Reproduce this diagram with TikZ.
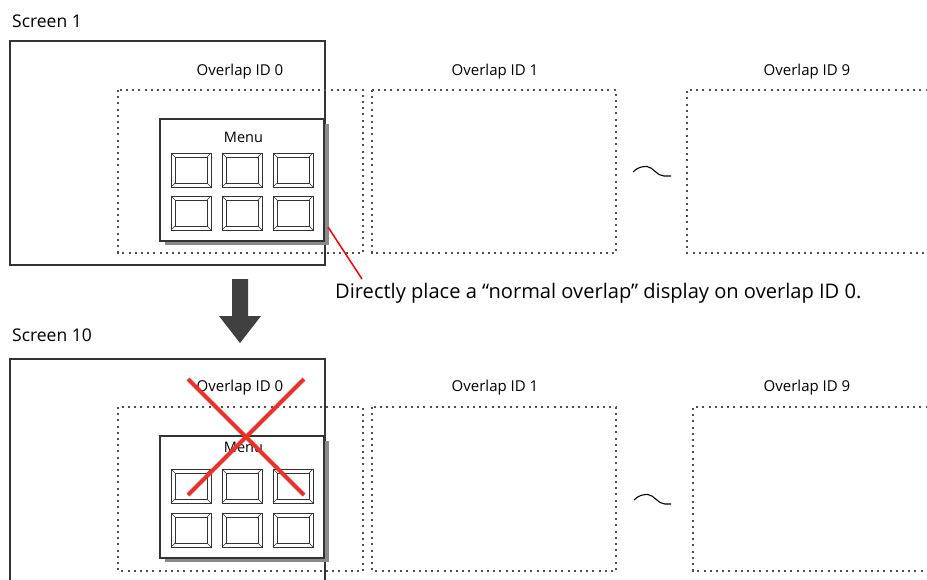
\documentclass[tikz,border=0pt]{standalone}
\usepackage{fontspec}
\setmainfont{Open Sans}
\definecolor{frame}{HTML}{333333}
\definecolor{dotc}{HTML}{505050}
\definecolor{shadowc}{HTML}{8A8A8A}
\definecolor{arrowc}{HTML}{404040}
\definecolor{xred}{HTML}{EC3228}
\tikzset{
  screenbox/.style={draw=frame, line width=1.1pt},
  dotbox/.style={draw=dotc, line width=1.3pt, dash pattern=on 2pt off 4.2pt},
  menubox/.style={draw=frame, line width=1.2pt, fill=white},
  lbl/.style={inner sep=0pt, anchor=base, text=black},
  scrlbl/.style={inner sep=0pt, anchor=base west, text=black, font=\fontsize{17.5}{20}\selectfont},
  ovlbl/.style={lbl, font=\fontsize{15}{18}\selectfont},
  menulbl/.style={lbl, font=\fontsize{14.5}{17}\selectfont},
  btn/.pic={
    \draw[frame, line width=0.9pt, fill=white] (0,0) rectangle (40,34);
    \draw[frame, line width=0.8pt] (4,4) rectangle (36,30);
    \draw[frame, line width=0.6pt] (0,0) -- (4,4) (40,0) -- (36,4) (0,34) -- (4,30) (40,34) -- (36,30);
  }
}
\begin{document}
\begin{tikzpicture}[x=1pt, y=-1pt]
\useasboundingbox (0,0) rectangle (927,579);
\clip (0,0) rectangle (927,579);
\fill[white] (0,0) rectangle (927,579);

% ---------- top: Screen 1 ----------
\node[scrlbl] (s1) at (12,27) {Screen 1};
\draw[screenbox] (10,41) rectangle (325,265);
\draw[dotbox] (118,90) rectangle (363,253);
\draw[dotbox] (372,90) rectangle (616,253);
\draw[dotbox] (940,90) -- (687,90) -- (687,253) -- (940,253);
\node[ovlbl] (o0a) at (240,75) {Overlap ID 0};
\node[ovlbl] (o1a) at (495,75) {Overlap ID 1};
\node[ovlbl] (o9a) at (807,75) {Overlap ID 9};
\draw[line width=1.1pt] (633,172) .. controls (638,167) and (642,166.5) .. (647,166.5) .. controls (653,167) and (657,176) .. (664,176) -- (671,176);
\fill[shadowc] (165,124) rectangle (329,245);
\draw[menubox] (160,119) rectangle (324,241);
\node[menulbl] (m1) at (243.5,142) {Menu};
\foreach \bx in {171,222,273}{
  \foreach \by in {153,196}{
    \pic at (\bx,\by) {btn};
  }
}
\coordinate (c1) at (328,227);
\coordinate (c2) at (362,279);
\draw[red, line width=1.5pt] (c1) -- (c2);
\node[inner sep=0pt, anchor=base west, font=\fontsize{20.1}{23}\selectfont] (note) at (335,298) {Directly place a “normal overlap” display on overlap ID 0.};

% ---------- arrow ----------
\fill[arrowc] (232,279) -- (248,279) -- (248,316) -- (261,316) -- (240,343) -- (219,316) -- (232,316) -- cycle;

% ---------- bottom: Screen 10 ----------
\node[scrlbl] (s10) at (12,341) {Screen 10};
\draw[screenbox] (10,600) -- (10,359) -- (325,359) -- (325,600);
\draw[dotbox] (118,407) rectangle (363,571);
\draw[dotbox] (372,407) rectangle (616,571);
\draw[dotbox] (940,407) -- (693,407) -- (693,571) -- (940,571);
\node[ovlbl] (o0b) at (240,391) {Overlap ID 0};
\node[ovlbl] (o1b) at (495,391) {Overlap ID 1};
\node[ovlbl] (o9b) at (807,391) {Overlap ID 9};
\draw[line width=1.1pt] (634,500) .. controls (639,495) and (643,494.5) .. (648,494.5) .. controls (654,495) and (658,504) .. (665,504) -- (671,504);
\fill[shadowc] (165,441) rectangle (329,562);
\draw[menubox] (160,436) rectangle (324,558);
\node[menulbl] (m2) at (243.5,452) {Menu};
\foreach \bx in {171,222,273}{
  \foreach \by in {469,513}{
    \pic at (\bx,\by) {btn};
  }
}
\draw[xred, line width=4pt] (188,379) -- (304,495);
\draw[xred, line width=4pt] (304,379) -- (188,495);
\end{tikzpicture}
\end{document}
